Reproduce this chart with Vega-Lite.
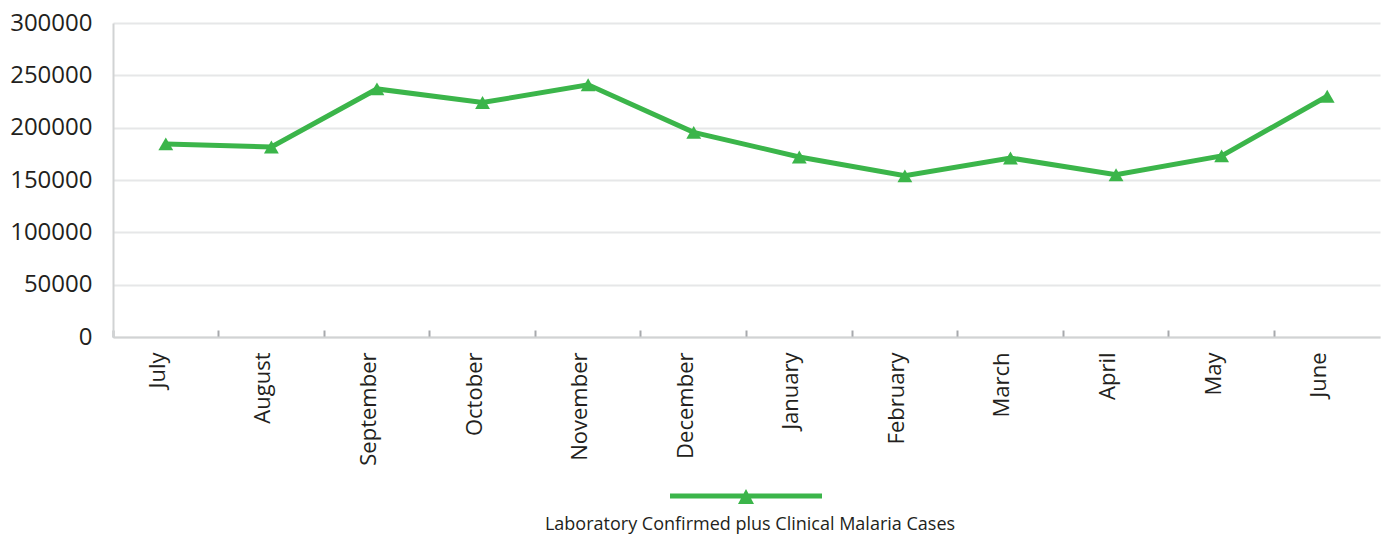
{
  "$schema": "https://vega.github.io/schema/vega-lite/v6.json",
  "width": 1267,
  "height": 314,
  "autosize": {"type": "none"},
  "padding": {"left": 113, "top": 23, "right": 7, "bottom": 198},
  "background": "white",
  "config": {
    "view": {"stroke": null},
    "font": "Open Sans",
    "axis": {"labelFont": "Open Sans", "labelColor": "#231f20"}
  },
  "data": {
    "values": [
      {"month": "July", "cases": 184500, "series": "Laboratory Confirmed plus Clinical Malaria Cases"},
      {"month": "August", "cases": 181500, "series": "Laboratory Confirmed plus Clinical Malaria Cases"},
      {"month": "September", "cases": 237000, "series": "Laboratory Confirmed plus Clinical Malaria Cases"},
      {"month": "October", "cases": 224000, "series": "Laboratory Confirmed plus Clinical Malaria Cases"},
      {"month": "November", "cases": 241000, "series": "Laboratory Confirmed plus Clinical Malaria Cases"},
      {"month": "December", "cases": 195500, "series": "Laboratory Confirmed plus Clinical Malaria Cases"},
      {"month": "January", "cases": 172000, "series": "Laboratory Confirmed plus Clinical Malaria Cases"},
      {"month": "February", "cases": 154000, "series": "Laboratory Confirmed plus Clinical Malaria Cases"},
      {"month": "March", "cases": 171000, "series": "Laboratory Confirmed plus Clinical Malaria Cases"},
      {"month": "April", "cases": 155000, "series": "Laboratory Confirmed plus Clinical Malaria Cases"},
      {"month": "May", "cases": 173000, "series": "Laboratory Confirmed plus Clinical Malaria Cases"},
      {"month": "June", "cases": 230000, "series": "Laboratory Confirmed plus Clinical Malaria Cases"}
    ]
  },
  "encoding": {
    "x": {
      "field": "month",
      "type": "nominal",
      "sort": null,
      "scale": {"type": "band", "paddingInner": 0, "paddingOuter": 0},
      "axis": {
        "title": null,
        "labelAngle": -90,
        "labelFontSize": 22,
        "labelPadding": 22,
        "labelOffset": -8,
        "bandPosition": 0,
        "ticks": true,
        "tickSize": -7,
        "tickWidth": 2,
        "tickColor": "#a7a9ac",
        "domainColor": "#d1d3d4",
        "domainWidth": 2,
        "grid": false,
        "labelColor": "#231f20"
      }
    },
    "y": {
      "field": "cases",
      "type": "quantitative",
      "scale": {"domain": [0, 300000]},
      "axis": {
        "title": null,
        "values": [0, 50000, 100000, 150000, 200000, 250000, 300000],
        "format": "d",
        "labelFontSize": 24,
        "labelPadding": 21,
        "ticks": false,
        "domainColor": "#d1d3d4",
        "domainWidth": 2,
        "gridColor": "#e6e7e8",
        "gridWidth": 2,
        "labelColor": "#231f20"
      }
    },
    "color": {
      "field": "series",
      "type": "nominal",
      "scale": {"range": ["#3bb54a"]},
      "legend": {
        "orient": "none",
        "legendX": 432,
        "legendY": 463,
        "title": "Laboratory Confirmed plus Clinical Malaria Cases",
        "titleOrient": "bottom",
        "titleAnchor": "middle",
        "titleFontSize": 18,
        "titleFontWeight": "normal",
        "titleColor": "#231f20",
        "titlePadding": 12,
        "titleLimit": 1000,
        "labelExpr": "''",
        "labelOffset": 0,
        "symbolType": "M-1.8,-0.25 L13.4,-0.25 L13.4,0.25 L-1.8,0.25 Z M5,0.8 L5.8,-0.7 L6.6,0.8 Z",
        "symbolSize": 400,
        "symbolStrokeWidth": 0,
        "symbolFillColor": "#3bb54a",
        "symbolOpacity": 1
      }
    }
  },
  "layer": [
    {"mark": {"type": "line", "strokeWidth": 5}},
    {"mark": {"type": "point", "shape": "triangle-up", "filled": true, "size": 220, "opacity": 1}}
  ]
}
